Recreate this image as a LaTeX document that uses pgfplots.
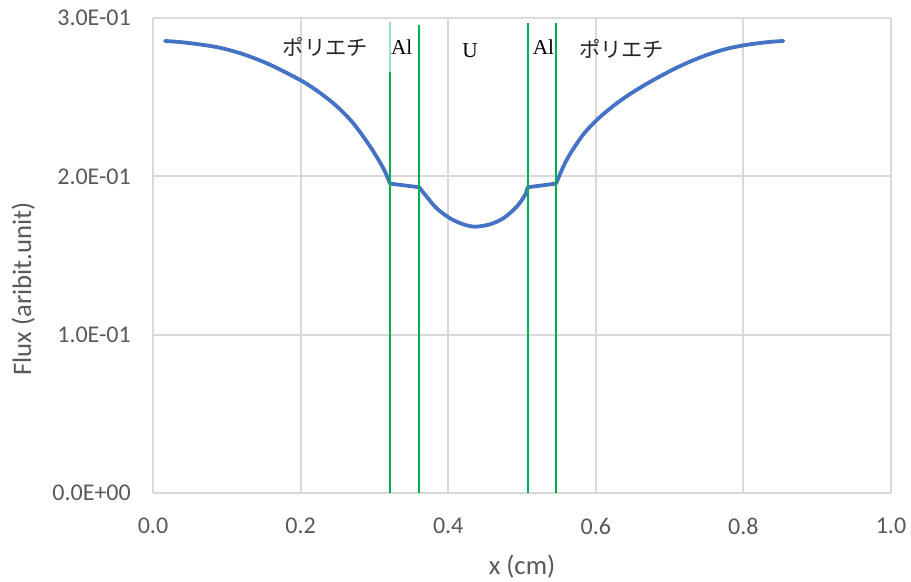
\documentclass[border=0pt]{standalone}
\usepackage{pgfplots}
\pgfplotsset{compat=1.18}
\usepackage{fontspec}
\setmainfont{Carlito}
\newfontfamily\jp{Noto Sans CJK JP}
\newfontfamily\tms{Liberation Serif}
\definecolor{ticktext}{HTML}{595959}
\definecolor{gridc}{HTML}{D9D9D9}
\definecolor{curve}{HTML}{4472C4}
\definecolor{bndgreen}{RGB}{0,176,80}
\definecolor{bndlight}{RGB}{165,222,188}
\begin{document}
\begin{tikzpicture}
\begin{axis}[name=ax, scale only axis, width=738bp, height=475bp,
 xmin=0, xmax=1, ymin=0, ymax=0.3,
 axis x line*=bottom, axis y line*=left,
 axis line style={draw=gridc, line width=2bp, -},
 xtick={0,0.2,0.4,0.6,0.8,1.0}, xticklabels={0.0,0.2,0.4,0.6,0.8,1.0},
 ytick={0,0.1,0.2,0.3}, yticklabels={0.0E+00,1.0E-01,2.0E-01,3.0E-01},
 major tick length=0, grid=major, major grid style={draw=gridc, line width=2bp},
 tick label style={font=\fontsize{24bp}{28bp}\selectfont, text=ticktext},
 xticklabel style={anchor=center, inner sep=0pt, yshift=-33bp},
 yticklabel style={anchor=east, inner sep=0pt, xshift=-22bp},
 xlabel={x (cm)}, ylabel={Flux (aribit.unit)},
 every axis x label/.style={at={(axis description cs:0.5,-0.155)}, anchor=center,
   font=\fontsize{26.7bp}{30bp}\selectfont, text=ticktext},
 every axis y label/.style={at={(axis description cs:-0.176,0.43)}, anchor=center, rotate=90,
   font=\fontsize{26.7bp}{30bp}\selectfont, text=ticktext},
 clip=false,
]
% curve segments
\addplot[color=curve, line width=3.8bp, smooth, line join=round, line cap=round] coordinates {
(0.0163,0.2855) (0.0366,0.2848) (0.0637,0.2833) (0.0908,0.2812) (0.1179,0.2778) (0.1450,0.2732)
(0.1698,0.2680) (0.2037,0.2597) (0.2263,0.2527) (0.2489,0.2443) (0.2714,0.2335)
(0.2940,0.2190) (0.3121,0.2051) (0.3211,0.1954)};
\addplot[color=curve, line width=3.8bp, line join=round, line cap=round] coordinates {
(0.3211,0.1954) (0.3608,0.1931)};
\addplot[color=curve, line width=3.8bp, smooth, line join=round, line cap=round] coordinates {
(0.3608,0.1931) (0.3709,0.1871) (0.3844,0.1798) (0.4024,0.1735) (0.4205,0.1697) (0.4363,0.1682)
(0.4566,0.1697) (0.4747,0.1735) (0.4928,0.1808) (0.5041,0.1882) (0.5077,0.1931)};
\addplot[color=curve, line width=3.8bp, line join=round, line cap=round] coordinates {
(0.5077,0.1931) (0.5461,0.1954)};
\addplot[color=curve, line width=3.8bp, smooth, line join=round, line cap=round] coordinates {
(0.5461,0.1954) (0.5560,0.2061) (0.5650,0.2140) (0.5831,0.2265) (0.6034,0.2365) (0.6283,0.2461)
(0.6508,0.2533) (0.6734,0.2596) (0.7006,0.2665) (0.7254,0.2720) (0.7525,0.2770) (0.7796,0.2808)
(0.8067,0.2832) (0.8338,0.2848) (0.8541,0.2855)};
% green boundary lines
\addplot[draw=bndgreen, line width=1.6bp] coordinates {(0.3211,0) (0.3211,0.266)};
\addplot[draw=bndlight, line width=1.6bp] coordinates {(0.3211,0.266) (0.3211,0.2975)};
\addplot[draw=bndgreen, line width=1.6bp] coordinates {(0.3608,0) (0.3608,0.2956)};
\addplot[draw=bndgreen, line width=1.6bp] coordinates {(0.5079,0) (0.5079,0.2968)};
\addplot[draw=bndgreen, line width=1.6bp] coordinates {(0.5461,0) (0.5461,0.2968)};
% labels
\node[font=\jp\fontsize{21.3bp}{24bp}\selectfont, text=black!85, inner sep=0pt] at (axis cs:0.2335,0.2819) {ポリエチ};
\node[font=\tms\fontsize{21.3bp}{24bp}\selectfont, inner sep=0pt] at (axis cs:0.337,0.2815) {Al};
\node[font=\tms\fontsize{21.3bp}{24bp}\selectfont, inner sep=0pt] at (axis cs:0.4295,0.2795) {U};
\node[font=\tms\fontsize{21.3bp}{24bp}\selectfont, inner sep=0pt] at (axis cs:0.529,0.2815) {Al};
\node[font=\jp\fontsize{21.3bp}{24bp}\selectfont, text=black!85, inner sep=0pt] at (axis cs:0.635,0.2804) {ポリエチ};
\end{axis}
\path ([xshift=-153bp,yshift=-87bp]ax.south west) rectangle ([xshift=20bp,yshift=18bp]ax.north east);
\end{tikzpicture}
\end{document}
